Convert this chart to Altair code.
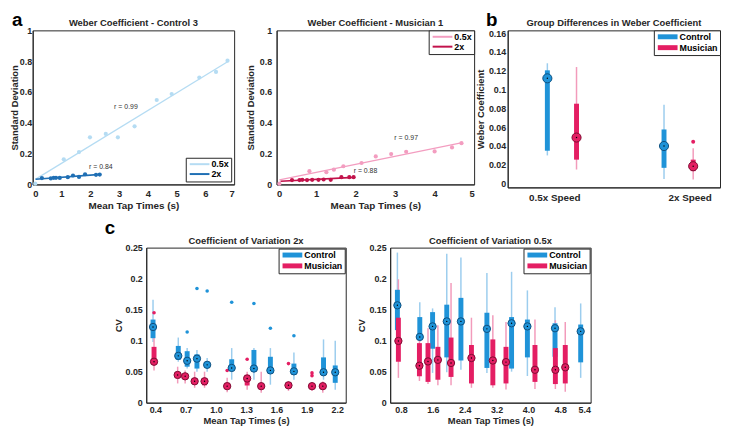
import altair as alt
import pandas as pd

FONT = "Liberation Sans"
INK = "#262626"

# ---------------- panel a1 : Weber Coefficient - Control 3 ----------------
a1_x_half = [0.09, 1.08, 1.61, 1.99, 2.54, 2.96, 3.54, 4.31, 4.83, 5.79, 6.37, 6.77]
a1_y_half = [0.005, 0.163, 0.21, 0.306, 0.328, 0.306, 0.377, 0.548, 0.587, 0.694, 0.730, 0.803]
a1_x_double = [0.32, 0.63, 0.73, 0.81, 0.94, 1.22, 1.40, 1.61, 1.82, 2.20, 2.33]
a1_y_double = [0.041, 0.039, 0.043, 0.043, 0.042, 0.047, 0.058, 0.049, 0.066, 0.062, 0.064]
a1_r_text = ["r = 0.99", "r = 0.84"]
a1_r_x = [3.24, 2.37]
a1_r_y = [0.50, 0.111]

# ---------------- panel a2 : Weber Coefficient - Musician 1 ----------------
a2_x_half = [0.07, 0.83, 1.26, 1.45, 1.69, 2.15, 2.51, 2.90, 3.28, 4.00, 4.44, 4.68]
a2_y_half = [0.005, 0.086, 0.079, 0.096, 0.118, 0.139, 0.182, 0.197, 0.212, 0.214, 0.240, 0.268]
a2_x_double = [0.39, 0.58, 0.65, 0.77, 0.90, 1.06, 1.19, 1.37, 1.64, 1.84, 1.95]
a2_y_double = [0.028, 0.028, 0.030, 0.028, 0.030, 0.030, 0.032, 0.030, 0.047, 0.047, 0.047]
a2_r_text = ["r = 0.97", "r = 0.88"]
a2_r_x = [3.28, 2.25]
a2_r_y = [0.30, 0.09]

# ---------------- panel b : group differences ----------------
b_speed = ["0.5x Speed", "0.5x Speed", "2x Speed", "2x Speed"]
b_group = ["Control", "Musician", "Control", "Musician"]
b_med = [0.112, 0.049, 0.040, 0.0185]
b_q1 = [0.035, 0.0255, 0.0168, 0.0133]
b_q3 = [0.1205, 0.085, 0.0576, 0.0255]
b_lo = [0.030, 0.015, 0.005, 0.0045]
b_hi = [0.128, 0.124, 0.084, 0.0377]
b_out_speed = ["2x Speed"]
b_out_group = ["Musician"]
b_out_y = [0.0446]

# ---------------- panel c1 : CV 2x ----------------
c1_ctrl_x = [0.377, 0.627, 0.715, 0.812, 0.913, 1.156, 1.376, 1.539, 1.772, 2.065, 2.181]
c1_ctrl_med = [0.122, 0.0755, 0.0675, 0.071, 0.061, 0.056, 0.055, 0.052, 0.0505, 0.049, 0.049]
c1_ctrl_q1 = [0.104, 0.069, 0.058, 0.055, 0.056, 0.053, 0.050, 0.050, 0.045, 0.044, 0.032]
c1_ctrl_q3 = [0.134, 0.0915, 0.083, 0.078, 0.066, 0.070, 0.085, 0.074, 0.063, 0.073, 0.060]
c1_ctrl_lo = [0.098, 0.066, 0.055, 0.050, 0.050, 0.037, 0.037, 0.029, 0.037, 0.037, 0.021]
c1_ctrl_hi = [0.166, 0.105, 0.088, 0.085, 0.072, 0.088, 0.088, 0.088, 0.081, 0.102, 0.100]
c1_mus_x = [0.387, 0.621, 0.695, 0.789, 0.887, 1.111, 1.309, 1.448, 1.718, 1.951, 2.058]
c1_mus_med = [0.066, 0.0447, 0.0425, 0.0345, 0.0345, 0.0266, 0.039, 0.0266, 0.028, 0.0266, 0.0266]
c1_mus_q1 = [0.064, 0.041, 0.038, 0.031, 0.028, 0.022, 0.0277, 0.022, 0.024, 0.023, 0.022]
c1_mus_q3 = [0.090, 0.048, 0.045, 0.037, 0.037, 0.032, 0.045, 0.030, 0.033, 0.030, 0.030]
c1_mus_lo = [0.052, 0.031, 0.031, 0.024, 0.024, 0.017, 0.021, 0.016, 0.019, 0.019, 0.016]
c1_mus_hi = [0.105, 0.058, 0.052, 0.050, 0.050, 0.040, 0.050, 0.050, 0.035, 0.032, 0.034]
c1_out_group = ["Control"] * 7 + ["Musician"] * 6
c1_out_x = [0.715, 0.812, 0.913, 1.156, 1.376, 1.539, 1.772,
            0.387, 1.111, 1.309, 1.718, 1.951, 1.951]
c1_out_y = [0.114, 0.184, 0.180, 0.162, 0.160, 0.120, 0.108,
            0.145, 0.052, 0.070, 0.063, 0.048, 0.0436]
c1_ticks = [0.4, 0.7, 1.0, 1.3, 1.6, 1.9, 2.2]

# ---------------- panel c2 : CV 0.5x ----------------
c2_ctrl_x = [0.711, 1.273, 1.594, 1.950, 2.305, 2.957, 3.576, 3.973, 4.666, 5.310]
c2_ctrl_med = [0.157, 0.106, 0.123, 0.131, 0.131, 0.119, 0.128, 0.123, 0.120, 0.115]
c2_ctrl_q1 = [0.117, 0.101, 0.087, 0.073, 0.068, 0.056, 0.055, 0.073, 0.074, 0.065]
c2_ctrl_q3 = [0.182, 0.138, 0.146, 0.158, 0.169, 0.145, 0.138, 0.134, 0.128, 0.126]
c2_ctrl_lo = [0.115, 0.098, 0.048, 0.049, 0.053, 0.048, 0.050, 0.043, 0.070, 0.040]
c2_ctrl_hi = [0.242, 0.162, 0.152, 0.240, 0.234, 0.209, 0.211, 0.181, 0.154, 0.160]
c2_mus_x = [0.736, 1.264, 1.479, 1.727, 2.057, 2.569, 3.106, 3.436, 4.163, 4.675, 4.923]
c2_mus_med = [0.0995, 0.0596, 0.0665, 0.069, 0.064, 0.072, 0.068, 0.0654, 0.053, 0.053, 0.057]
c2_mus_q1 = [0.066, 0.0426, 0.0335, 0.037, 0.0415, 0.031, 0.028, 0.031, 0.0335, 0.030, 0.031]
c2_mus_q3 = [0.137, 0.096, 0.096, 0.090, 0.105, 0.093, 0.102, 0.090, 0.093, 0.088, 0.093]
c2_mus_lo = [0.040, 0.035, 0.030, 0.028, 0.028, 0.024, 0.024, 0.0213, 0.022, 0.022, 0.0176]
c2_mus_hi = [0.199, 0.135, 0.120, 0.125, 0.193, 0.137, 0.141, 0.130, 0.134, 0.133, 0.130]
c2_ticks = [0.8, 1.6, 2.4, 3.2, 4.0, 4.8, 5.4]

GROUPS = ["Control", "Musician"]
GROUP_COL = ["#1f93d8", "#e41e63"]
GROUP_LIGHT = ["#9ccdee", "#f29bbb"]
GROUP_EDGE = ["#0d4f7f", "#7d0b31"]
IND = dict(color="independent", fill="independent", stroke="independent",
           x="independent", y="independent")


def axis(title, values=None, fmt=None, label_pad=4, title_pad=2, **kw):
    args = dict(title=title, ticks=False, grid=False, labelPadding=label_pad, titlePadding=title_pad,
                domainColor=INK, labelColor=INK, titleColor=INK)
    if values is not None:
        args["values"] = values
    if fmt is not None:
        args["format"] = fmt
    args.update(kw)
    return alt.Axis(**args)


def letter_mark(letter, lx, ly):
    return alt.Chart(pd.DataFrame({"t": [letter]})).mark_text(
        fontSize=19, font=FONT, fontWeight="bold", align="left", baseline="alphabetic", color="black"
    ).encode(text="t:N", x=alt.value(lx), y=alt.value(ly))


def title_mark(text, width):
    return alt.Chart(pd.DataFrame({"t": [text]})).mark_text(
        fontSize=9.5, font=FONT, fontWeight="bold", align="center", baseline="bottom", color=INK
    ).encode(text="t:N", x=alt.value(width / 2), y=alt.value(-2))


def legend(orient, stroke_w, offset):
    return alt.Legend(title=None, orient=orient, offset=offset, symbolStrokeWidth=stroke_w,
                      symbolType="M-1,0H7", symbolSize=25, labelOffset=15, padding=2,
                      rowPadding=0, labelFontSize=9)


def legend_bar(offset):
    return alt.Legend(title=None, orient="top-right", offset=offset, symbolStrokeWidth=0,
                      symbolType="M-1,-1H7V1H-1Z", symbolSize=25, labelOffset=15, padding=2,
                      rowPadding=1, labelFontSize=9)


def scatter_panel(xh, yh, xd, yd, rt, rx, ry, title, cols, xmax, ext_h, ext_d, lorient,
                  width, height, ylabpad, ytitlepad, letter=None):
    df = pd.DataFrame({"x": xh + xd, "y": yh + yd,
                       "speed": ["0.5x"] * len(xh) + ["2x"] * len(xd)})
    sc = alt.Scale(domain=["0.5x", "2x"], range=cols)
    xs = alt.Scale(domain=[0, xmax], nice=False)
    ys = alt.Scale(domain=[0, 1], nice=False)
    xa = axis("Mean Tap Times (s)", list(range(0, xmax + 1)), "d", title_pad=3)
    ya = axis("Standard Deviation", [0, 0.2, 0.4, 0.6, 0.8, 1], "~g", label_pad=ylabpad,
              title_pad=ytitlepad, labelFontSize=9, titleFontSize=9.5)
    X = alt.X("x:Q", scale=xs, axis=xa)
    Y = alt.Y("y:Q", scale=ys, axis=ya)
    color = alt.Color("speed:N", scale=sc,
                      legend=legend(lorient, 2, 3 if lorient == "bottom-right" else 0))
    base = alt.Chart(df)
    lh = base.transform_filter("datum.speed == '0.5x'").transform_regression(
        "x", "y", groupby=["speed"], extent=ext_h).mark_line(strokeWidth=1.3).encode(x=X, y=Y, color=color)
    ld = base.transform_filter("datum.speed == '2x'").transform_regression(
        "x", "y", groupby=["speed"], extent=ext_d).mark_line(strokeWidth=1.6).encode(x=X, y=Y, color=color)
    pts = base.mark_circle(size=18, opacity=1).encode(
        x=X, y=Y, fill=alt.Fill("speed:N", scale=sc, legend=None))
    rdf = pd.DataFrame({"t": rt, "x": rx, "y": ry})
    rtxt = alt.Chart(rdf).mark_text(fontSize=7, font=FONT, color="#333333").encode(
        x=alt.X("x:Q", scale=xs, axis=xa), y=alt.Y("y:Q", scale=ys, axis=ya), text="t:N")
    layers = [lh, ld, pts, rtxt, title_mark(title, width)]
    if letter:
        layers.append(letter_mark(*letter))
    return alt.layer(*layers).resolve_scale(fill="independent").properties(width=width, height=height)


def box_layers(df, odf, xs, xa, ys, ya, leg, med_size, thick_w, thin_w, out_size):
    X = alt.X("x:Q", scale=xs, axis=xa)
    cs = alt.Scale(domain=GROUPS, range=GROUP_COL)
    fill = alt.Fill("group:N", scale=cs, legend=None)

    def Y(f):
        return alt.Y(f, scale=ys, axis=ya)

    base = alt.Chart(df)
    # legend carrier: a bar layer with no rows, so only its legend shows
    key = base.transform_filter("false").mark_bar().encode(
        x=X, y=Y("med:Q"), color=alt.Color("group:N", scale=cs, legend=leg))
    thin = base.mark_rule(strokeWidth=thin_w).encode(
        x=X, y=Y("lo:Q"), y2="hi:Q",
        stroke=alt.Stroke("group:N", scale=alt.Scale(domain=GROUPS, range=GROUP_LIGHT), legend=None))
    thick = base.mark_rule(strokeWidth=thick_w).encode(
        x=X, y=Y("q1:Q"), y2="q3:Q", stroke=alt.Stroke("group:N", scale=cs, legend=None))
    med = base.mark_point(filled=True, size=med_size, strokeWidth=1, opacity=1).encode(
        x=X, y=Y("med:Q"), fill=fill,
        stroke=alt.Stroke("group:N", scale=alt.Scale(domain=GROUPS, range=GROUP_EDGE), legend=None))
    dot = base.mark_circle(size=2, color="black", opacity=1).encode(x=X, y=Y("med:Q"))
    out = alt.Chart(odf).mark_circle(size=out_size, opacity=1).encode(x=X, y=Y("y:Q"), fill=fill)
    return [key, thin, thick, out, med, dot]


# ---- build a1, a2
a1 = scatter_panel(a1_x_half, a1_y_half, a1_x_double, a1_y_double, a1_r_text, a1_r_x, a1_r_y,
                   "Weber Coefficient - Control 3", ["#b5dcf3", "#1f6fb4"], 7,
                   [0.09, 6.8], [0.1, 2.35], "bottom-right", 204, 156, 1, 0, ("a", -21, -4))
a2 = scatter_panel(a2_x_half, a2_y_half, a2_x_double, a2_y_double, a2_r_text, a2_r_x, a2_r_y,
                   "Weber Coefficient - Musician 1", ["#f39dc0", "#c2124b"], 5,
                   [0.07, 4.7], [0.1, 1.95], "top-right", 200, 156, 5, 4)

# ---- build b
speed_order = ["0.5x Speed", "2x Speed"]
b_df = pd.DataFrame({"speed": b_speed, "group": b_group, "med": b_med, "q1": b_q1,
                     "q3": b_q3, "lo": b_lo, "hi": b_hi})
b_df["x"] = [speed_order.index(s) + 1 + 0.25 * GROUPS.index(g) for s, g in zip(b_speed, b_group)]
b_odf = pd.DataFrame({"group": b_out_group, "y": b_out_y})
b_odf["x"] = [speed_order.index(s) + 1 + 0.25 * GROUPS.index(g) for s, g in zip(b_out_speed, b_out_group)]
b_xs = alt.Scale(domain=[0.66, 2.48], nice=False, zero=False, padding=0)
b_xa = axis(None, [1.06, 2.22], None, label_pad=5,
            labelExpr="datum.value < 1.5 ? '0.5x Speed' : '2x Speed'", labelFontSize=10)
b_ys = alt.Scale(domain=[-0.004, 0.163], nice=False, zero=False, padding=0)
b_ya = axis("Weber Coefficient", [0, 0.02, 0.04, 0.06, 0.08, 0.1, 0.12, 0.14, 0.16], "~g",
            label_pad=2, title_pad=3, labelFontSize=9, titleFontSize=9.5)
b = alt.layer(*box_layers(b_df, b_odf, b_xs, b_xa, b_ys, b_ya, legend_bar(0), 85, 5, 1.5, 16),
              title_mark("Group Differences in Weber Coefficient", 215),
              letter_mark("b", -22, -4)).resolve_scale(fill="independent", stroke="independent").properties(
    width=215, height=159)


def cv_panel(cx, cmed, cq1, cq3, clo, chi, mx, mmed, mq1, mq3, mlo, mhi, og, ox, oy,
             xdom, ticks, title, width, letter):
    df = pd.DataFrame({
        "group": ["Control"] * len(cx) + ["Musician"] * len(mx),
        "x": cx + mx, "med": cmed + mmed, "q1": cq1 + mq1, "q3": cq3 + mq3,
        "lo": clo + mlo, "hi": chi + mhi})
    odf = pd.DataFrame({"group": og, "x": ox, "y": oy})
    xs = alt.Scale(domain=xdom, nice=False, zero=False, padding=0)
    xa = axis("Mean Tap Times (s)", ticks, ".1f", label_pad=3, title_pad=1, labelFontSize=9,
              titleFontSize=9.5)
    ys = alt.Scale(domain=[0, 0.25], nice=False, padding=0)
    ya = axis("CV", [0, 0.05, 0.1, 0.15, 0.2, 0.25], "~g", label_pad=4, title_pad=2, labelFontSize=9,
              titleFontSize=9.5)
    layers = box_layers(df, odf, xs, xa, ys, ya, legend_bar(1), 55, 5, 1.5, 13)
    layers.append(title_mark(title, width))
    if letter:
        layers.append(letter_mark(letter, -42, -14))
    return alt.layer(*layers).resolve_scale(fill="independent", stroke="independent").properties(
        width=width, height=157)


c1 = cv_panel(c1_ctrl_x, c1_ctrl_med, c1_ctrl_q1, c1_ctrl_q3, c1_ctrl_lo, c1_ctrl_hi,
              c1_mus_x, c1_mus_med, c1_mus_q1, c1_mus_q3, c1_mus_lo, c1_mus_hi,
              c1_out_group, c1_out_x, c1_out_y, [0.31, 2.285], c1_ticks,
              "Coefficient of Variation 2x", 202, "c")
c2 = cv_panel(c2_ctrl_x, c2_ctrl_med, c2_ctrl_q1, c2_ctrl_q3, c2_ctrl_lo, c2_ctrl_hi,
              c2_mus_x, c2_mus_med, c2_mus_q1, c2_mus_q3, c2_mus_lo, c2_mus_hi,
              [], [], [], [0.53, 5.56], c2_ticks,
              "Coefficient of Variation 0.5x", 203, "")


def spacer(w):
    return alt.Chart(pd.DataFrame({"v": [0]})).mark_point(opacity=0).encode(
        x=alt.value(0), y=alt.value(0)).properties(
        width=w, height=10, view=alt.ViewBackground(stroke="transparent"))


row1 = alt.hconcat(a1, spacer(43), a2, spacer(34), b, spacing=0, bounds="flush").resolve_scale(**IND)
row2 = alt.hconcat(spacer(115), c1, spacer(45), c2, spacing=0, bounds="flush").resolve_scale(**IND)

chart = alt.vconcat(row1, row2, spacing=7).resolve_scale(**IND).properties(
    padding={"left": 0, "top": 0, "right": 0, "bottom": 0}
).configure(font=FONT).configure_view(stroke=INK, strokeWidth=1).configure_axis(
    labelFont=FONT, labelFontWeight="bold", labelFontSize=9.5, titleFont=FONT,
    titleFontWeight="bold", titleFontSize=10
).configure_legend(
    strokeColor=INK, fillColor="white", padding=2, labelFont=FONT, labelFontWeight="bold",
    labelFontSize=9, labelColor="black", symbolOpacity=1
)

chart.save("out.html", embed_options={"renderer": "svg", "actions": False})
